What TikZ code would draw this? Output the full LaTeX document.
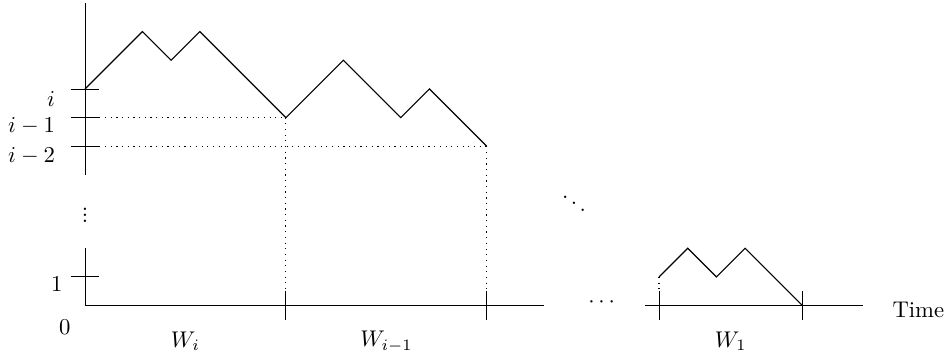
\documentclass[tikz,border=0pt]{standalone}
\begin{document}
\begin{tikzpicture}[x=0.4444cm,y=0.4444cm,
  axis/.style={line width=0.4pt},
  walk/.style={line width=0.5pt, line join=miter},
  guide/.style={dotted, line width=0.5pt},
  lbl/.style={inner sep=0pt}]
\useasboundingbox (-2.962,-1.892) rectangle (29.93,10.65);
% named points
\coordinate (O) at (0,0);
\coordinate (ytop) at (0,10.55);
\coordinate (ybrk1) at (0,4.55);
\coordinate (ybrk2) at (0,2.0);
\coordinate (xbrk1) at (16,0);
\coordinate (xbrk2) at (19.5,0);
\coordinate (xend) at (27.1,0);
% axes
\draw[axis] (ytop) -- (ybrk1);
\draw[axis] (ybrk2) -- (O) -- (xbrk1);
\draw[axis] (xbrk2) -- (xend);
\node[lbl] (vd) at (0,3.16) {\vbox{\baselineskip=2.6pt \lineskiplimit=0pt \hbox{.}\hbox{.}\hbox{.}}};
\node[lbl] (hd) at (18,0.1) {$\cdots$};
\node[lbl] (dd) at (17.04,3.79) {$\ddots$};
% y ticks
\foreach \yy/\nm in {7.55/ti,6.55/tim,5.55/timm,1/tone}{
  \coordinate (\nm L) at (-0.5,\yy);
  \coordinate (\nm R) at (0.5,\yy);
  \draw[axis] (\nm L) -- (\nm R);
}
% x ticks
\foreach \xx/\nm in {7/xa,14/xb,20/xc,25/xd}{
  \coordinate (\nm B) at (\xx,-0.5);
  \coordinate (\nm T) at (\xx,0.5);
  \draw[axis] (\nm B) -- (\nm T);
}
% walk points
\coordinate (a0) at (0,7.55);
\coordinate (a1) at (2,9.55);
\coordinate (a2) at (3,8.55);
\coordinate (a3) at (4,9.55);
\coordinate (a4) at (7,6.55);
\coordinate (b1) at (9,8.55);
\coordinate (b2) at (11,6.55);
\coordinate (b3) at (12,7.55);
\coordinate (b4) at (14,5.55);
\coordinate (c0) at (20,1);
\coordinate (c1) at (21,2);
\coordinate (c2) at (22,1);
\coordinate (c3) at (23,2);
\coordinate (c4) at (25,0);
\draw[walk] (a0) -- (a1) -- (a2) -- (a3) -- (a4) -- (b1) -- (b2) -- (b3) -- (b4);
\draw[walk] (c0) -- (c1) -- (c2) -- (c3) -- (c4);
% guides
\draw[guide] (timR) -- (a4);
\draw[guide] (timmR) -- (b4);
\draw[guide] (a4) -- (7,0);
\draw[guide] (b4) -- (14,0);
\draw[guide] (c0) -- (xcT);
% labels
\node[lbl] (li) at (-1.18,7.2) {$i$};
\node[lbl] (li1) at (-1.86,6.26) {$i-1$};
\node[lbl] (li2) at (-1.86,5.23) {$i-2$};
\node[lbl] (l1) at (-0.98,0.76) {$1$};
\node[lbl] (l0) at (-0.70,-0.76) {$0$};
\node[lbl] (w1) at (3.5,-1.25) {$W_i$};
\node[lbl] (w2) at (10.5,-1.25) {$W_{i-1}$};
\node[lbl] (w3) at (22.5,-1.25) {$W_1$};
\node[lbl,anchor=base west] (tm) at (28.12,-0.43) {Time};
\end{tikzpicture}
\end{document}
